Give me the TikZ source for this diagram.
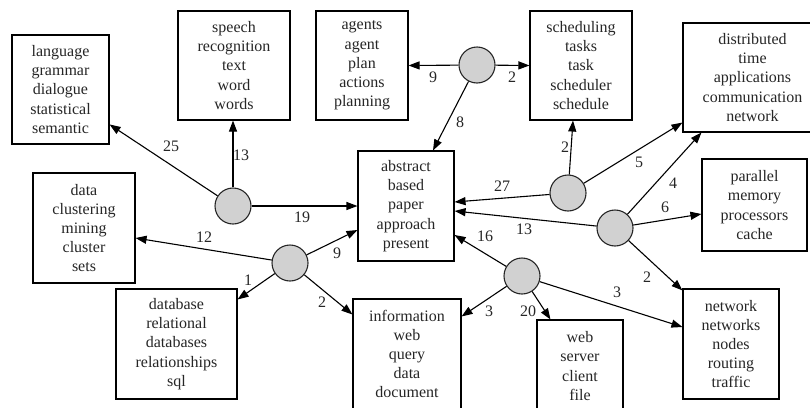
\documentclass[tikz,border=0pt]{standalone}
\usepackage{fontspec}
\setmainfont{Liberation Serif}
\usetikzlibrary{arrows.meta,calc}
\tikzset{
  box/.style={draw=black,line width=1.1pt,rectangle,align=center,inner sep=0pt,font=\fontsize{16}{19.2}\selectfont,text=black!85},
  hub/.style={draw=black!85,line width=1.1pt,circle,fill=black!18,minimum size=36pt,inner sep=0pt},
  conn/.style={draw=black,line width=1.1pt,-{Triangle[length=11pt,width=8pt]}},
  lbl/.style={font=\fontsize{16}{19.2}\selectfont,text=black!85,inner sep=0pt}
}
\begin{document}
\begin{tikzpicture}[x=1pt,y=-1pt]
\useasboundingbox[fill=white] (0,0) rectangle (810,407);
% boxes
\node[box,minimum width=97pt,minimum height=109pt] (lang) at (60.5,89.5) {language\\grammar\\dialogue\\statistical\\semantic};
\node[box,minimum width=112pt,minimum height=109pt] (speech) at (234,65.5) {speech\\recognition\\text\\word\\words};
\node[box,minimum width=92pt,minimum height=109pt] (agents) at (362,65.5) {agents\\agent\\plan\\actions\\planning};
\node[box,minimum width=102pt,minimum height=109pt] (sched) at (581,65.5) {scheduling\\tasks\\task\\scheduler\\schedule};
\node[box,minimum width=139pt,minimum height=109pt] (dist) at (752.5,77.5) {distributed\\time\\applications\\communication\\network};
\node[box,minimum width=105pt,minimum height=92pt] (par) at (754.5,205) {parallel\\memory\\processors\\cache};
\node[box,minimum width=96pt,minimum height=110pt] (abs) at (406,206) {abstract\\based\\paper\\approach\\present};
\node[box,minimum width=102pt,minimum height=110pt] (data) at (84,228) {data\\clustering\\mining\\cluster\\sets};
\node[box,minimum width=121pt,minimum height=110pt] (db) at (176.5,344) {database\\relational\\databases\\relationships\\sql};
\node[box,minimum width=108pt,minimum height=110pt] (info) at (407,354) {information\\web\\query\\data\\document};
\node[box,minimum width=86pt,minimum height=92pt] (web) at (580,366) {web\\server\\client\\file};
\node[box,minimum width=96pt,minimum height=110pt] (net) at (731,344) {network\\networks\\nodes\\routing\\traffic};
% hubs
\node[hub] (c1) at (233,206) {};
\node[hub] (c2) at (477,65) {};
\node[hub] (c3) at (290,263) {};
\node[hub] (c4) at (522,276) {};
\node[hub] (c5) at (568,193) {};
\node[hub] (c6) at (615,228) {};
% connectors
\draw[conn] (c1) -- ($(lang.north east)+(0,90)$);
\draw[conn] (c1) -- (c1 |- speech.south);
\draw[conn] (c1) -- (abs.west);
\draw[conn] (c2) -- (agents.east);
\draw[conn] (c2) -- (sched.west);
\draw[conn] (c2) -- ($(abs.north)+(27,0)$);
\draw[conn] (c3) -- ($(data.east)+(0,10)$);
\draw[conn] (c3) -- ($(db.north east)+(0,11)$);
\draw[conn] (c3) -- ($(abs.west)+(0,24)$);
\draw[conn] (c3) -- ($(info.north west)+(0,16)$);
\draw[conn] (c4) -- ($(abs.east)+(0,29)$);
\draw[conn] (c4) -- ($(info.north east)+(0,18)$);
\draw[conn] (c4) -- ($(web.north west)+(14,0)$);
\draw[conn] (c4) -- ($(net.west)+(0,-17)$);
\draw[conn] (c5) -- ($(abs.east)+(0,-4)$);
\draw[conn] (c5) -- ($(sched.south)+(-8,0)$);
\draw[conn] (c5) -- ($(dist.south west)+(0,-10)$);
\draw[conn] (c6) -- ($(abs.east)+(0,5)$);
\draw[conn] (c6) -- ($(dist.south west)+(19,0)$);
\draw[conn] (c6) -- ($(par.west)+(0,9)$);
\draw[conn] (c6) -- ($(net.north west)+(0,2)$);
% labels
\node[lbl] (l1) at (171,146) {25};
\node[lbl] (l2) at (241,155) {13};
\node[lbl] (l3) at (302,217) {19};
\node[lbl] (l4) at (433,77) {9};
\node[lbl] (l5) at (512,77) {2};
\node[lbl] (l6) at (460,122) {8};
\node[lbl] (l7) at (204,237) {12};
\node[lbl] (l8) at (248,280) {1};
\node[lbl] (l9) at (337,253) {9};
\node[lbl] (l10) at (322,302) {2};
\node[lbl] (l11) at (485,236) {16};
\node[lbl] (l12) at (489,311) {3};
\node[lbl] (l13) at (528,311) {20};
\node[lbl] (l14) at (617,292) {3};
\node[lbl] (l15) at (502,186) {27};
\node[lbl] (l16) at (565,147) {2};
\node[lbl] (l17) at (639,162) {5};
\node[lbl] (l18) at (524,229) {13};
\node[lbl] (l19) at (673,183) {4};
\node[lbl] (l20) at (665,207) {6};
\node[lbl] (l21) at (647,277) {2};
\end{tikzpicture}
\end{document}
